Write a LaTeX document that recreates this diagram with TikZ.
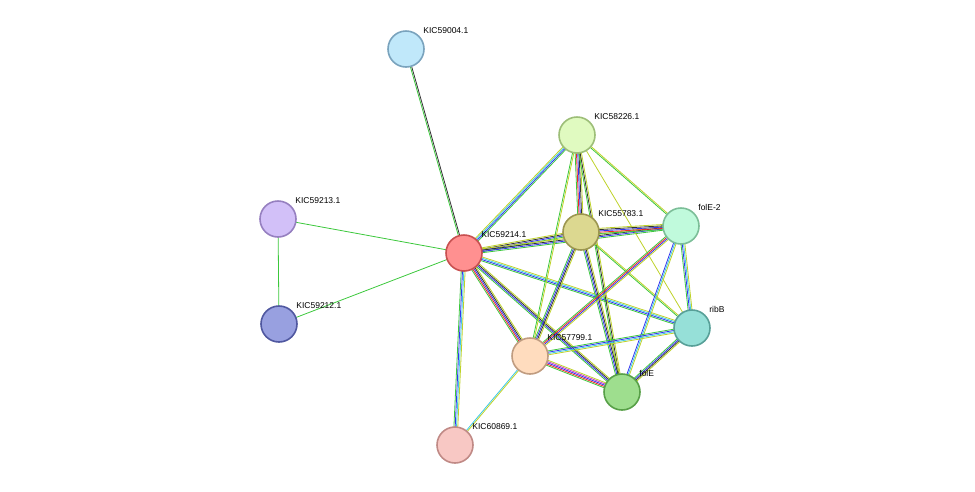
\documentclass[tikz,border=0pt]{standalone}
\usepackage{fontspec}
\setmainfont{Liberation Sans}
\usetikzlibrary{calc}
\definecolor{cgreen}{RGB}{60,200,60}
\definecolor{cred}{RGB}{240,40,40}
\definecolor{cblue}{RGB}{50,50,240}
\definecolor{cblack}{RGB}{50,50,50}
\definecolor{ccyan}{RGB}{60,200,230}
\definecolor{cyell}{RGB}{190,210,40}
\definecolor{cmag}{RGB}{200,60,200}
% bundle of parallel lines between two nodes
\newcommand\bundle[3]{%
  \foreach \c [count=\i] in {#3} {\xdef\nb{\i}}%
  \foreach \c [count=\i] in {#3} {%
    \pgfmathsetmacro\off{(\i-(\nb+1)/2)*1.3}%
    \draw[\c] ($(#1)!\off pt!90:(#2)$) -- ($(#2)!\off pt!-90:(#1)$);}}
\begin{document}
\begin{tikzpicture}[x=1pt,y=-1pt,line width=0.8pt,
  prot/.style={circle,draw,line width=1.6pt,minimum size=36pt,inner sep=0pt},
  lab/.style={font=\fontsize{8.5}{10}\selectfont,anchor=south west,inner sep=0pt}]
\useasboundingbox (0,0) rectangle (975,491);
\coordinate (p04) at (406,49);
\coordinate (p26) at (577,135);
\coordinate (p13) at (278,219);
\coordinate (p14) at (464,253);
\coordinate (p83) at (581,232);
\coordinate (fe2) at (681,226);
\coordinate (rib) at (692,328);
\coordinate (p12) at (279,324);
\coordinate (p99) at (530,356);
\coordinate (fol) at (622,392);
\coordinate (p69) at (455,445);
% edges
\bundle{p04}{p14}{cgreen,cblack}
\bundle{p13}{p14}{cgreen}
\bundle{p13}{p12}{cgreen}
\bundle{p12}{p14}{cgreen}
\bundle{p14}{p26}{cgreen,cblue,ccyan,cyell}
\bundle{p14}{p83}{cgreen,cblue,cblack,cyell}
\bundle{p14}{fe2}{cgreen,cblue,cblack,cyell}
\bundle{p14}{rib}{cgreen,cblue,ccyan,cyell}
\bundle{p14}{p99}{cgreen,cred,cblue,cblack,cyell}
\bundle{p14}{fol}{cgreen,cblue,cblack,cyell}
\bundle{p14}{p69}{cgreen,cblue,ccyan,cyell}
\bundle{p99}{p69}{ccyan,cyell}
\bundle{p26}{p83}{cgreen,cred,cblue,cblack,cyell}
\bundle{p26}{fe2}{cgreen,cyell}
\bundle{p26}{rib}{cyell}
\bundle{p26}{p99}{cgreen,cyell}
\bundle{p26}{fol}{cgreen,cblack,cyell}
\bundle{p83}{fe2}{cgreen,cred,cblue,cblack,cyell}
\bundle{p83}{rib}{cgreen,cyell}
\bundle{p83}{p99}{cgreen,cblue,cblack,cyell}
\bundle{p83}{fol}{cgreen,cblue,cblack,cyell}
\bundle{fe2}{rib}{cgreen,cblue,ccyan,cyell}
\bundle{fe2}{p99}{cgreen,cred,cblue,cyell}
\bundle{fe2}{fol}{cblue,ccyan,cyell}
\bundle{rib}{p99}{cgreen,cblue,ccyan,cyell}
\bundle{rib}{fol}{cgreen,cblue,cblack,cyell}
\bundle{p99}{fol}{cgreen,cred,cblue,cmag,cyell}
% proteins
\foreach \p/\f/\d/\t in {p04/C0E8FA/7AA3BD/KIC59004.1, p26/E0FAC0/9DBE78/KIC58226.1,
  p13/D2C0F8/9680C0/KIC59213.1, p14/FF9090/C85050/KIC59214.1,
  p83/DCD890/9C9650/KIC55783.1, fe2/C0FADC/7CBE98/folE-2,
  rib/96E0D8/58A098/ribB, p12/98A0E0/5058A0/KIC59212.1,
  p99/FFDCBE/C09C80/KIC57799.1, fol/9EDE8E/58A048/folE,
  p69/F8C8C4/C08A86/KIC60869.1} {
  \definecolor{fc}{HTML}{\f}\definecolor{dc}{HTML}{\d}
  \node[prot,fill=fc,draw=dc] (n\p) at (\p) {};
  \node[lab] (t\p) at ($(\p)+(17,-15)$) {\t};
}
\end{tikzpicture}
\end{document}
